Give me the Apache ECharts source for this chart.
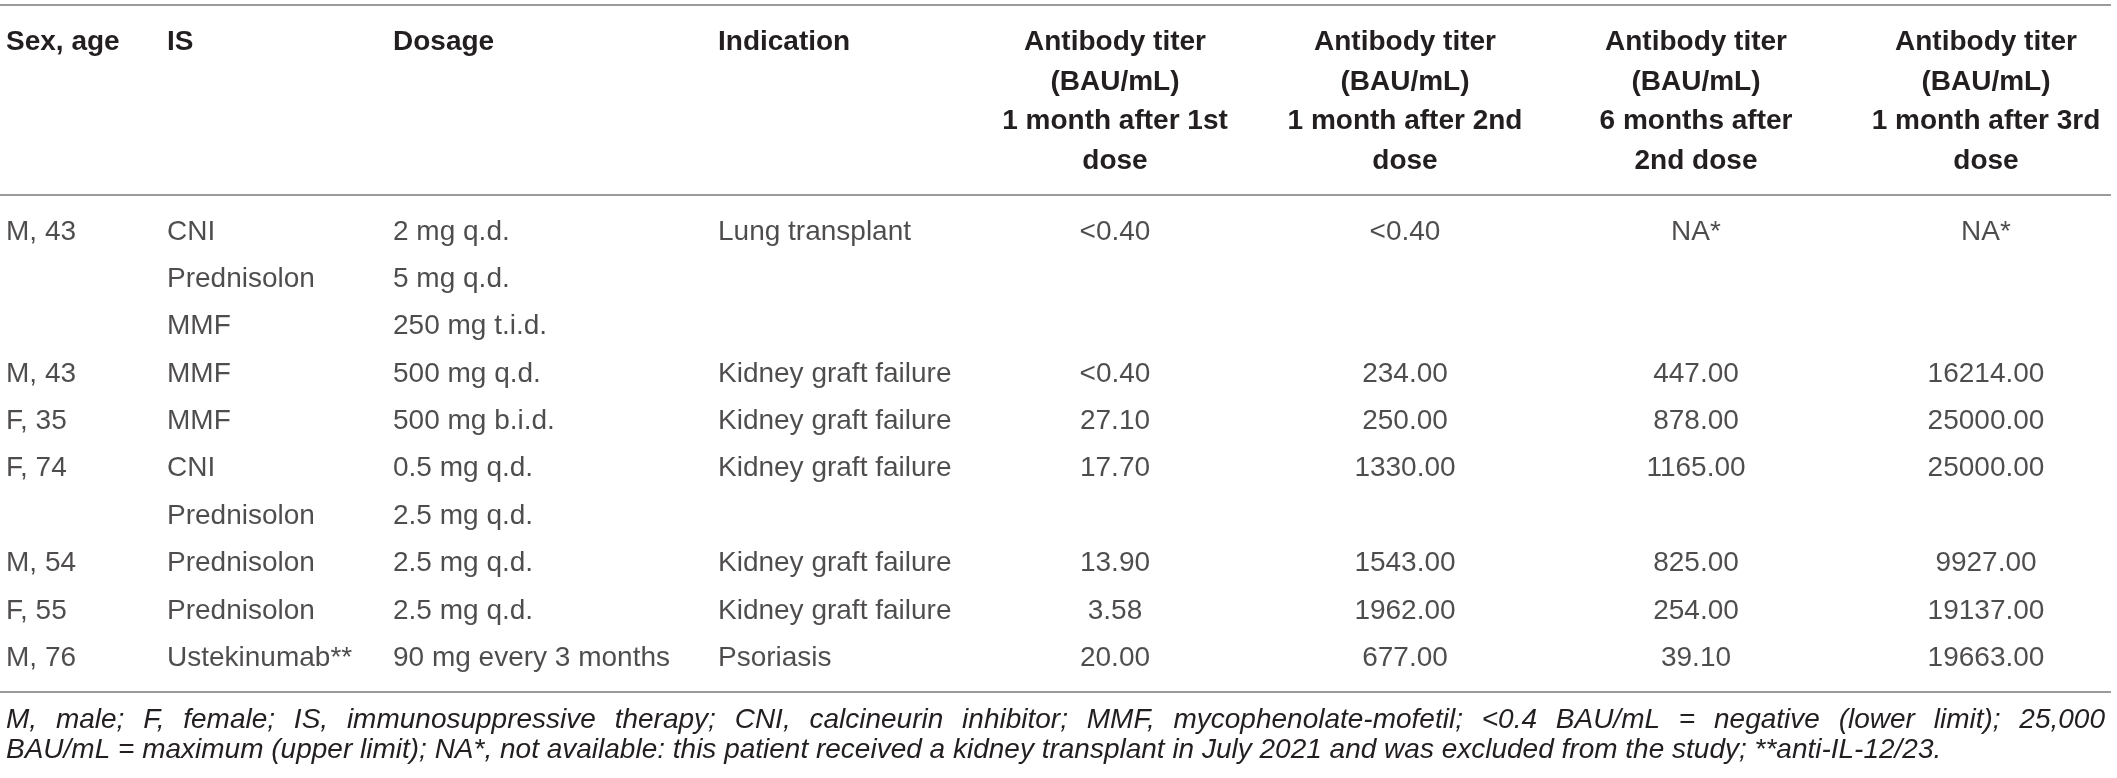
<!DOCTYPE html>
<html>
<head>
<meta charset="utf-8">
<script src="https://cdn.jsdelivr.net/npm/echarts@6/dist/echarts.min.js"></script>
<style>
    html, body { margin: 0; padding: 0; background: #fff; }
    #table1 { width: 2117px; height: 778px; }
</style>
</head>
<body>
<div id="table1"></div>
<script>
// rows of the table, one entry per printed line
var sexAge = ['M, 43', '', '', 'M, 43', 'F, 35', 'F, 74', '', 'M, 54', 'F, 55', 'M, 76'];
var therapy = ['CNI', 'Prednisolon', 'MMF', 'MMF', 'MMF', 'CNI', 'Prednisolon', 'Prednisolon', 'Prednisolon', 'Ustekinumab**'];
var dosage = ['2 mg q.d.', '5 mg q.d.', '250 mg t.i.d.', '500 mg q.d.', '500 mg b.i.d.', '0.5 mg q.d.', '2.5 mg q.d.', '2.5 mg q.d.', '2.5 mg q.d.', '90 mg every 3 months'];
var indication = ['Lung transplant', '', '', 'Kidney graft failure', 'Kidney graft failure', 'Kidney graft failure', '', 'Kidney graft failure', 'Kidney graft failure', 'Psoriasis'];
var titer1st = ['<0.40', '', '', '<0.40', '27.10', '17.70', '', '13.90', '3.58', '20.00'];
var titer2nd = ['<0.40', '', '', '234.00', '250.00', '1330.00', '', '1543.00', '1962.00', '677.00'];
var titer6mo = ['NA*', '', '', '447.00', '878.00', '1165.00', '', '825.00', '254.00', '39.10'];
var titer3rd = ['NA*', '', '', '16214.00', '25000.00', '25000.00', '', '9927.00', '19137.00', '19663.00'];

var headers = [
    ['Sex, age'],
    ['IS'],
    ['Dosage'],
    ['Indication'],
    ['Antibody titer', '(BAU/mL)', '1 month after 1st', 'dose'],
    ['Antibody titer', '(BAU/mL)', '1 month after 2nd', 'dose'],
    ['Antibody titer', '(BAU/mL)', '6 months after', '2nd dose'],
    ['Antibody titer', '(BAU/mL)', '1 month after 3rd', 'dose']
];

var footLine1 = 'M, male; F, female; IS, immunosuppressive therapy; CNI, calcineurin inhibitor; MMF, mycophenolate-mofetil; <0.4 BAU/mL = negative (lower limit); 25,000';
var footLine2 = 'BAU/mL = maximum (upper limit); NA*, not available: this patient received a kidney transplant in July 2021 and was excluded from the study; **anti-IL-12/23.';

// layout
var W = 2117;
var colX = [6, 167, 393, 718, 1115, 1405, 1696, 1986];
var colAlign = ['left', 'left', 'left', 'left', 'center', 'center', 'center', 'center'];
var columns = [sexAge, therapy, dosage, indication, titer1st, titer2nd, titer6mo, titer3rd];
var rowH = 47.35;
var firstRowY = 232;
var headY = [42, 82, 121, 161];
var font = '"Liberation Sans", Arial, sans-serif';
var ink = '#231f20';
var ruleColor = '#9b9b9b';

var rowIdx = sexAge.map(function(d, i) { return i; });

var series = columns.map(function(col, k) {
    var data = [];
    col.forEach(function(v, i) {
        if (v !== '') data.push([colX[k], i, v]);
    });
    return {
        type: 'scatter',
        symbolSize: 0,
        silent: true,
        data: data,
        label: {
            show: true,
            position: 'inside',
            align: colAlign[k],
            verticalAlign: 'middle',
            fontFamily: font,
            fontSize: 28,
            color: ink,
            formatter: function(p) { return p.value[2]; }
        }
    };
});

var graphics = [];
function rule(y) {
    graphics.push({
        type: 'line',
        shape: { x1: 0, y1: y, x2: 2111, y2: y },
        style: { stroke: ruleColor, lineWidth: 2 }
    });
}
rule(5);
rule(195);
rule(692);

headers.forEach(function(lines, k) {
    lines.forEach(function(t, j) {
        graphics.push({
            type: 'text',
            x: colX[k],
            y: headY[j],
            style: {
                text: t,
                font: 'bold 28px ' + font,
                fill: ink,
                align: colAlign[k],
                verticalAlign: 'middle'
            }
        });
    });
});

// footnote: first line justified to full width
var footFont = 'italic 28px ' + font;
var ctx = document.createElement('canvas').getContext('2d');
ctx.font = footFont;
var words = footLine1.split(' ');
var wordW = words.map(function(w) { return ctx.measureText(w).width; });
var sumW = wordW.reduce(function(a, b) { return a + b; }, 0);
var gap = (2105 - 6 - sumW) / (words.length - 1);
var cx = 6;
words.forEach(function(w, i) {
    graphics.push({
        type: 'text', x: cx, y: 720,
        style: { text: w, font: footFont, fill: ink, align: 'left', verticalAlign: 'middle' }
    });
    cx += wordW[i] + gap;
});
graphics.push({
    type: 'text', x: 6, y: 750,
    style: { text: footLine2, font: footFont, fill: ink, align: 'left', verticalAlign: 'middle' }
});

var option = {
    animation: false,
    backgroundColor: '#fff',
    grid: { left: 0, right: 0, top: firstRowY - rowH / 2, height: rowH * sexAge.length },
    xAxis: { type: 'value', min: 0, max: W, show: false },
    yAxis: { type: 'category', data: rowIdx, inverse: true, show: false },
    graphic: graphics,
    series: series
};
var chart = echarts.init(document.getElementById('table1'));
chart.setOption(option);
</script>
</body>
</html>
